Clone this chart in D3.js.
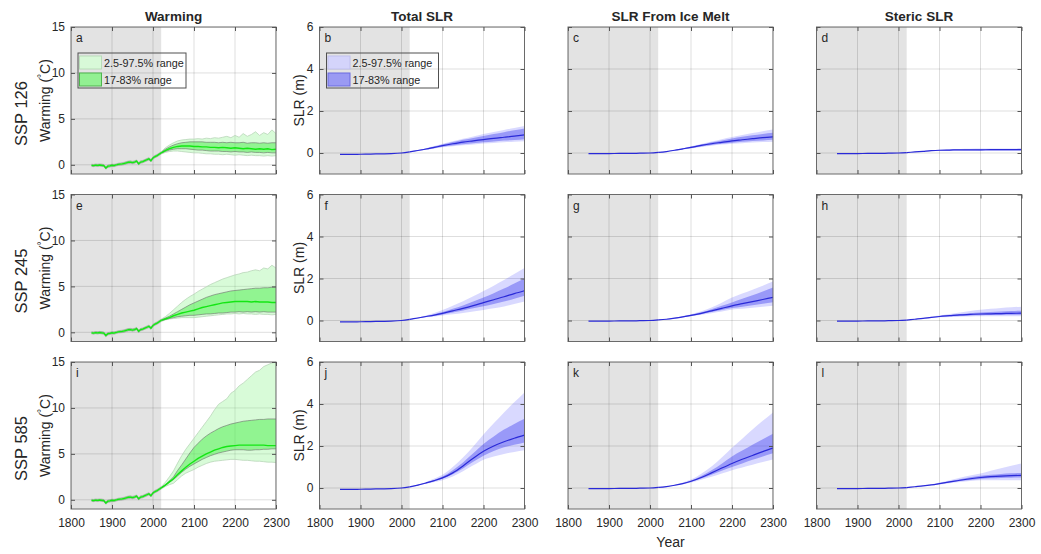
<!DOCTYPE html>
<html>
<head>
<meta charset="utf-8">
<script src="https://cdn.jsdelivr.net/npm/d3@7"></script>
<style>
  body { margin: 0; background: #fff; }
  text { font-family: "Liberation Sans", Arial, Helvetica, sans-serif; fill: #262626; }
</style>
</head>
<body>
<svg id="fig" width="1041" height="554"></svg>
<script>
// ---------------- labels ----------------
const columnTitles = ["Warming", "Total SLR", "SLR From Ice Melt", "Steric SLR"];
const scenarioLabels = ["SSP 126", "SSP 245", "SSP 585"];
const panelLetters = [["a", "b", "c", "d"], ["e", "f", "g", "h"], ["i", "j", "k", "l"]];
const legendLabels = ["2.5-97.5% range", "17-83% range"];
const xTicks = [1800, 1900, 2000, 2100, 2200, 2300];
const warmTicks = [0, 5, 10, 15];
const slrTicks = [0, 2, 4, 6];
const historicalEnd = 2020;

// ---------------- warming (°C) ----------------
const warmHistYears = [1850,1855,1860,1865,1870,1875,1880,1885,1890,1895,1900,1905,1910,1915,1920,1925,1930,1935,1940,1945,1950,1955,1960,1965,1970,1975,1980,1985,1990,1995,2000,2005,2010,2015,2020];
const warmHistMid = [-0.05,-0.08,-0.03,-0.06,-0.02,-0.05,-0.08,-0.35,-0.15,-0.12,-0.05,-0.08,-0.02,0.05,0.08,0.10,0.15,0.22,0.28,0.30,0.25,0.30,0.40,0.12,0.30,0.35,0.45,0.55,0.65,0.45,0.75,0.90,1.00,1.15,1.30];
const warmHistLo = [-0.17,-0.20,-0.15,-0.19,-0.14,-0.18,-0.20,-0.48,-0.28,-0.25,-0.17,-0.21,-0.14,-0.07,-0.05,-0.03,0.02,0.09,0.15,0.17,0.12,0.17,0.27,-0.01,0.17,0.22,0.32,0.42,0.52,0.32,0.62,0.77,0.87,1.02,1.17];
const warmHistHi = [0.07,0.04,0.09,0.07,0.10,0.08,0.04,-0.22,-0.03,0.01,0.07,0.05,0.10,0.17,0.20,0.23,0.28,0.35,0.41,0.43,0.38,0.43,0.53,0.25,0.43,0.48,0.58,0.68,0.78,0.58,0.88,1.03,1.13,1.28,1.43];

const warmProjYears = [2020,2030,2040,2050,2060,2070,2080,2090,2100,2110,2120,2130,2140,2150,2160,2170,2180,2190,2200,2210,2220,2230,2240,2250,2260,2270,2280,2290,2300];
// each: [2.5%, 17%, 50%, 83%, 97.5%]
const warm126 = [
  [1.17,1.35,1.45,1.5,1.5,1.45,1.4,1.35,1.3,1.3,1.25,1.2,1.2,1.15,1.15,1.1,1.15,1.1,1.05,1.1,1.05,1.0,1.05,1.0,1.0,0.95,1.0,0.95,1.0],
  [1.25,1.45,1.6,1.7,1.75,1.75,1.75,1.7,1.65,1.6,1.6,1.55,1.5,1.5,1.5,1.45,1.45,1.4,1.45,1.4,1.4,1.35,1.4,1.35,1.35,1.3,1.35,1.3,1.3],
  [1.3,1.55,1.75,1.9,2.0,2.05,2.05,2.05,2.0,2.0,1.95,1.95,1.9,1.9,1.85,1.9,1.85,1.8,1.85,1.8,1.75,1.8,1.75,1.7,1.75,1.7,1.75,1.65,1.7],
  [1.35,1.7,1.95,2.15,2.3,2.4,2.45,2.5,2.5,2.5,2.5,2.45,2.45,2.45,2.4,2.45,2.4,2.45,2.4,2.4,2.45,2.35,2.4,2.4,2.35,2.4,2.35,2.4,2.4],
  [1.43,1.85,2.15,2.4,2.6,2.7,2.75,2.8,2.8,2.85,2.8,2.9,2.85,2.95,2.9,3.0,3.1,2.95,3.2,3.0,3.4,3.1,3.3,3.6,3.2,3.5,3.3,3.8,3.4]
];
const warm245 = [
  [1.17,1.35,1.45,1.5,1.55,1.6,1.6,1.6,1.6,1.65,1.7,1.75,1.8,1.85,1.9,1.95,2.0,2.0,2.05,2.0,2.05,2.0,2.0,1.95,2.0,1.95,1.95,1.9,1.95],
  [1.25,1.4,1.5,1.6,1.7,1.75,1.8,1.85,1.85,1.9,1.95,2.0,2.0,2.05,2.1,2.1,2.15,2.2,2.2,2.25,2.2,2.25,2.2,2.25,2.2,2.25,2.2,2.2,2.2],
  [1.3,1.45,1.6,1.8,1.95,2.1,2.2,2.3,2.4,2.55,2.7,2.8,2.9,3.0,3.1,3.2,3.25,3.3,3.35,3.35,3.35,3.35,3.3,3.35,3.3,3.3,3.3,3.25,3.25],
  [1.35,1.55,1.75,2.0,2.25,2.5,2.75,3.0,3.2,3.4,3.6,3.8,3.95,4.1,4.2,4.3,4.4,4.5,4.55,4.6,4.65,4.7,4.75,4.8,4.8,4.85,4.85,4.9,4.9],
  [1.43,1.7,2.05,2.45,2.85,3.25,3.6,3.9,4.15,4.45,4.7,4.95,5.2,5.4,5.6,5.8,5.95,6.1,6.25,6.35,6.5,6.55,6.7,6.8,6.7,7.0,6.9,7.3,7.0]
];
const warm585 = [
  [1.17,1.45,1.65,1.8,2.2,2.6,2.9,3.1,3.3,3.55,3.75,3.95,4.1,4.2,4.25,4.3,4.35,4.4,4.4,4.35,4.3,4.3,4.25,4.2,4.2,4.15,4.1,4.1,4.05],
  [1.25,1.55,1.9,2.2,2.6,3.0,3.35,3.65,3.9,4.15,4.4,4.6,4.8,4.95,5.1,5.2,5.3,5.4,5.45,5.45,5.45,5.4,5.4,5.45,5.45,5.5,5.5,5.55,5.55],
  [1.3,1.6,1.95,2.3,2.75,3.15,3.55,3.9,4.2,4.5,4.75,5.0,5.2,5.4,5.55,5.7,5.8,5.85,5.9,5.95,5.95,5.95,5.95,5.95,5.95,5.95,5.9,5.9,5.9],
  [1.35,1.65,2.05,2.5,3.2,3.8,4.45,5.1,5.7,6.15,6.6,6.95,7.25,7.5,7.75,7.95,8.1,8.25,8.35,8.45,8.55,8.6,8.65,8.7,8.75,8.75,8.8,8.8,8.8],
  [1.43,1.9,2.5,3.15,4.0,4.8,5.5,6.1,6.7,7.3,7.9,8.5,9.1,9.8,10.4,10.7,11.0,11.6,11.9,12.4,12.7,13.1,13.5,13.9,14.1,14.5,14.7,14.9,15.0]
];

// ---------------- sea-level rise (m) ----------------
const slrHistYears = [1850,1875,1900,1925,1950,1975,2000,2020];
const slrHistTotal = [-0.07,-0.07,-0.06,-0.05,-0.04,-0.03,0.0,0.05];
const slrHistIce = [-0.03,-0.03,-0.03,-0.02,-0.02,-0.01,0.0,0.03];
const slrHistSteric = [-0.03,-0.03,-0.03,-0.02,-0.02,-0.01,0.0,0.02];

const slrProjYears = [2020,2040,2060,2080,2100,2125,2150,2175,2200,2225,2250,2275,2300];
// each: [2.5%, 17%, 50%, 83%, 97.5%]
const total126 = [
  [0.05,0.10,0.15,0.21,0.27,0.32,0.37,0.41,0.45,0.48,0.51,0.53,0.56],
  [0.05,0.11,0.17,0.23,0.30,0.36,0.42,0.47,0.51,0.55,0.59,0.62,0.66],
  [0.05,0.12,0.19,0.27,0.35,0.44,0.52,0.58,0.64,0.70,0.75,0.80,0.86],
  [0.05,0.13,0.21,0.31,0.41,0.52,0.63,0.72,0.81,0.90,0.99,1.08,1.17],
  [0.05,0.14,0.23,0.33,0.44,0.56,0.68,0.79,0.90,1.00,1.10,1.19,1.28]
];
const total245 = [
  [0.05,0.10,0.15,0.19,0.24,0.30,0.36,0.43,0.50,0.58,0.67,0.78,0.90],
  [0.05,0.11,0.17,0.23,0.29,0.38,0.48,0.58,0.68,0.79,0.90,1.04,1.18],
  [0.05,0.12,0.19,0.26,0.34,0.46,0.58,0.71,0.85,0.99,1.13,1.28,1.42],
  [0.05,0.13,0.21,0.30,0.40,0.56,0.72,0.91,1.10,1.30,1.52,1.76,2.00],
  [0.05,0.14,0.24,0.36,0.50,0.70,0.92,1.15,1.40,1.66,1.93,2.21,2.50]
];
const total585 = [
  [0.05,0.12,0.20,0.29,0.37,0.55,0.80,1.08,1.35,1.50,1.62,1.72,1.80],
  [0.05,0.13,0.22,0.32,0.44,0.65,0.93,1.25,1.54,1.76,1.94,2.06,2.17],
  [0.05,0.14,0.24,0.35,0.48,0.72,1.05,1.42,1.75,2.00,2.20,2.37,2.52],
  [0.05,0.15,0.26,0.39,0.55,0.85,1.22,1.65,2.10,2.45,2.78,3.05,3.30],
  [0.05,0.16,0.29,0.45,0.63,1.00,1.45,1.98,2.55,3.08,3.60,4.08,4.55]
];
const ice126 = [
  [0.03,0.06,0.11,0.17,0.22,0.29,0.35,0.40,0.44,0.47,0.50,0.52,0.54],
  [0.03,0.07,0.12,0.18,0.24,0.31,0.38,0.44,0.49,0.53,0.57,0.60,0.63],
  [0.03,0.07,0.13,0.20,0.27,0.36,0.44,0.51,0.58,0.63,0.68,0.73,0.77],
  [0.03,0.08,0.14,0.22,0.30,0.40,0.51,0.60,0.69,0.77,0.84,0.91,0.97],
  [0.03,0.08,0.15,0.23,0.32,0.43,0.55,0.66,0.76,0.86,0.95,1.04,1.12]
];
const ice245 = [
  [0.03,0.05,0.09,0.15,0.20,0.27,0.35,0.43,0.52,0.56,0.61,0.65,0.70],
  [0.03,0.06,0.10,0.16,0.22,0.30,0.40,0.50,0.59,0.66,0.73,0.80,0.87],
  [0.03,0.06,0.11,0.17,0.24,0.34,0.46,0.58,0.70,0.80,0.90,1.00,1.10],
  [0.03,0.07,0.12,0.19,0.27,0.39,0.54,0.70,0.86,1.03,1.20,1.38,1.57],
  [0.03,0.07,0.13,0.21,0.30,0.44,0.62,0.85,1.10,1.29,1.47,1.66,1.86]
];
const ice585 = [
  [0.03,0.06,0.11,0.18,0.26,0.39,0.53,0.69,0.85,0.98,1.11,1.24,1.36],
  [0.03,0.07,0.12,0.20,0.29,0.45,0.63,0.82,1.00,1.17,1.34,1.50,1.65],
  [0.03,0.07,0.13,0.21,0.32,0.50,0.72,0.95,1.17,1.37,1.55,1.73,1.90],
  [0.03,0.08,0.14,0.23,0.35,0.57,0.84,1.16,1.50,1.78,2.06,2.32,2.58],
  [0.03,0.08,0.15,0.26,0.40,0.68,1.02,1.45,1.92,2.35,2.78,3.20,3.60]
];
const steric126 = [
  [0.02,0.04,0.07,0.09,0.10,0.11,0.11,0.11,0.10,0.10,0.10,0.10,0.10],
  [0.02,0.05,0.07,0.10,0.12,0.12,0.13,0.13,0.13,0.13,0.13,0.13,0.13],
  [0.02,0.05,0.08,0.11,0.13,0.14,0.15,0.15,0.15,0.16,0.16,0.16,0.16],
  [0.02,0.05,0.08,0.12,0.14,0.16,0.17,0.18,0.18,0.19,0.19,0.19,0.20],
  [0.02,0.06,0.09,0.13,0.16,0.18,0.19,0.20,0.21,0.21,0.22,0.22,0.22]
];
const steric245 = [
  [0.02,0.05,0.08,0.12,0.15,0.17,0.18,0.19,0.20,0.20,0.20,0.20,0.20],
  [0.02,0.06,0.09,0.13,0.17,0.20,0.22,0.24,0.25,0.26,0.26,0.27,0.27],
  [0.02,0.06,0.10,0.15,0.19,0.23,0.27,0.29,0.31,0.32,0.33,0.34,0.35],
  [0.02,0.06,0.10,0.16,0.21,0.26,0.31,0.35,0.38,0.41,0.43,0.45,0.47],
  [0.02,0.07,0.11,0.18,0.24,0.31,0.38,0.45,0.51,0.56,0.60,0.63,0.66]
];
const steric585 = [
  [0.02,0.05,0.09,0.13,0.17,0.23,0.28,0.33,0.37,0.37,0.37,0.37,0.37],
  [0.02,0.06,0.10,0.14,0.19,0.26,0.33,0.38,0.43,0.46,0.48,0.49,0.50],
  [0.02,0.06,0.10,0.15,0.21,0.29,0.37,0.44,0.50,0.54,0.57,0.59,0.60],
  [0.02,0.06,0.11,0.16,0.23,0.32,0.42,0.51,0.58,0.63,0.67,0.70,0.72],
  [0.02,0.07,0.12,0.18,0.26,0.37,0.49,0.60,0.69,0.82,0.94,1.06,1.17]
];

// ---------------- layout & styling ----------------
const W = 205, H = 147;
const left0 = 71, colStep = 248.5, top0 = 27, rowStep = 167.5;
const FONT = '"Liberation Sans", Arial, Helvetica, sans-serif';

const green = { outer: "#7ff27f", outerOp: 0.3, inner: "#3cec3c", innerOp: 0.45,
                line: "#14e614", outerEdge: "#b9d6b9", innerEdge: "#707570",
                swatchOuter: "#d8f9d8", swatchOuterEdge: "#b9dcb9", swatchInner: "#92f092", swatchInnerEdge: "#4fb44f" };
const blue = { outer: "#4040ff", outerOp: 0.2, inner: "#3a3aee", innerOp: 0.4,
               line: "#2a2ad8",
               swatchOuter: "#d4d4fb", swatchOuterEdge: "#c0c0ee", swatchInner: "#9a9af3", swatchInnerEdge: "#6a6ae0" };

const svg = d3.select("#fig");
const x = d3.scaleLinear().domain([1800, 2300]).range([0, W]);
const yWarm = d3.scaleLinear().domain([-1, 15]).range([H, 0]);
const ySlr = d3.scaleLinear().domain([-1, 6]).range([H, 0]);

const warmSets = [warm126, warm245, warm585];
const slrSets = [
  [total126, total245, total585],
  [ice126, ice245, ice585],
  [steric126, steric245, steric585]
];
const slrHists = [slrHistTotal, slrHistIce, slrHistSteric];

function zipBand(years, lo, hi) {
  return years.map((yr, i) => ({ yr, lo: lo[i], hi: hi[i] }));
}
function zipLine(years, v) {
  return years.map((yr, i) => ({ yr, v: v[i] }));
}

for (let r = 0; r < 3; r++) {
  for (let c = 0; c < 4; c++) {
    const px = left0 + c * colStep, py = top0 + r * rowStep;
    const g = svg.append("g").attr("transform", `translate(${px},${py})`);
    const y = c === 0 ? yWarm : ySlr;
    const yTicks = c === 0 ? warmTicks : slrTicks;
    const clipId = `clip-${r}-${c}`;
    g.append("clipPath").attr("id", clipId)
      .append("rect").attr("width", W).attr("height", H);
    const plot = g.append("g").attr("clip-path", `url(#${clipId})`);

    // grid
    plot.selectAll(".gx").data(xTicks).join("line")
      .attr("x1", d => x(d)).attr("x2", d => x(d)).attr("y1", 0).attr("y2", H)
      .attr("stroke", "#000").attr("stroke-opacity", 0.13).attr("stroke-width", 1);
    plot.selectAll(".gy").data(yTicks).join("line")
      .attr("x1", 0).attr("x2", W).attr("y1", d => y(d)).attr("y2", d => y(d))
      .attr("stroke", "#000").attr("stroke-opacity", 0.13).attr("stroke-width", 1);

    // historical period shading
    plot.append("rect")
      .attr("x", x(1800)).attr("y", 0)
      .attr("width", x(historicalEnd) - x(1800)).attr("height", H)
      .attr("fill", "#000").attr("fill-opacity", 0.11);

    const area = d3.area().x(d => x(d.yr)).y0(d => y(d.lo)).y1(d => y(d.hi));
    const line = d3.line().x(d => x(d.yr)).y(d => y(d.v));

    if (c === 0) {
      const set = warmSets[r];
      // historical band and line
      plot.append("path").datum(zipBand(warmHistYears, warmHistLo, warmHistHi))
        .attr("d", area).attr("fill", green.inner).attr("fill-opacity", 0.5);
      [warmHistLo, warmHistHi].forEach(arr => {
        plot.append("path").datum(zipLine(warmHistYears, arr))
          .attr("d", line).attr("fill", "none").attr("stroke", green.innerEdge)
          .attr("stroke-width", 0.6).attr("stroke-opacity", 0.6);
      });
      // projection bands
      plot.append("path").datum(zipBand(warmProjYears, set[0], set[4]))
        .attr("d", area).attr("fill", green.outer).attr("fill-opacity", green.outerOp);
      plot.append("path").datum(zipBand(warmProjYears, set[1], set[3]))
        .attr("d", area).attr("fill", green.inner).attr("fill-opacity", green.innerOp);
      [set[0], set[4]].forEach(arr => {
        plot.append("path").datum(zipLine(warmProjYears, arr))
          .attr("d", line).attr("fill", "none").attr("stroke", green.outerEdge)
          .attr("stroke-width", 0.8);
      });
      [set[1], set[3]].forEach(arr => {
        plot.append("path").datum(zipLine(warmProjYears, arr))
          .attr("d", line).attr("fill", "none").attr("stroke", green.innerEdge)
          .attr("stroke-width", 0.8).attr("stroke-opacity", 0.8);
      });
      plot.append("path").datum(zipLine(warmHistYears, warmHistMid))
        .attr("d", line).attr("fill", "none").attr("stroke", green.line).attr("stroke-width", 1.3);
      plot.append("path").datum(zipLine(warmProjYears, set[2]))
        .attr("d", line).attr("fill", "none").attr("stroke", green.line).attr("stroke-width", 1.4);
    } else {
      const set = slrSets[c - 1][r];
      const hist = slrHists[c - 1];
      const sArea = area.curve(d3.curveMonotoneX);
      const sLine = line.curve(d3.curveMonotoneX);
      plot.append("path").datum(zipBand(slrProjYears, set[0], set[4]))
        .attr("d", sArea).attr("fill", blue.outer).attr("fill-opacity", blue.outerOp);
      plot.append("path").datum(zipBand(slrProjYears, set[1], set[3]))
        .attr("d", sArea).attr("fill", blue.inner).attr("fill-opacity", blue.innerOp);
      plot.append("path").datum(zipLine(slrHistYears, hist))
        .attr("d", sLine).attr("fill", "none").attr("stroke", blue.line).attr("stroke-width", 1.2);
      plot.append("path").datum(zipLine(slrProjYears, set[2]))
        .attr("d", sLine).attr("fill", "none").attr("stroke", blue.line).attr("stroke-width", 1.2);
    }

    // frame
    g.append("rect").attr("width", W).attr("height", H)
      .attr("fill", "none").attr("stroke", "#6a6a6a").attr("stroke-width", 1);

    // axes with inward ticks on all sides
    const styleAxis = sel => {
      sel.select(".domain").remove();
      sel.selectAll(".tick line").attr("stroke", "#555");
      sel.selectAll(".tick text").attr("fill", "#262626")
        .style("font-family", FONT).style("font-size", "12px");
    };
    g.append("g").attr("transform", `translate(0,${H})`)
      .call(d3.axisBottom(x).tickValues(xTicks).tickSizeInner(-4).tickSizeOuter(0).tickPadding(9)
        .tickFormat(r === 2 ? d3.format("d") : () => ""))
      .call(styleAxis);
    g.append("g")
      .call(d3.axisTop(x).tickValues(xTicks).tickSizeInner(-4).tickSizeOuter(0).tickFormat(() => ""))
      .call(styleAxis);
    g.append("g")
      .call(d3.axisLeft(y).tickValues(yTicks).tickSizeInner(-4).tickSizeOuter(0).tickPadding(6)
        .tickFormat(c < 2 ? d3.format("d") : () => ""))
      .call(styleAxis);
    g.append("g").attr("transform", `translate(${W},0)`)
      .call(d3.axisRight(y).tickValues(yTicks).tickSizeInner(-4).tickSizeOuter(0).tickFormat(() => ""))
      .call(styleAxis);

    // panel letter
    g.append("text").attr("x", 5).attr("y", 15)
      .style("font-size", "12px").text(panelLetters[r][c]);

    // column titles
    if (r === 0) {
      g.append("text").attr("x", W / 2).attr("y", -6)
        .attr("text-anchor", "middle").style("font-size", "13.5px").style("font-weight", "bold")
        .text(columnTitles[c]);
    }

    // y-axis labels
    if (c === 0) {
      const t = g.append("text")
        .attr("transform", `translate(-21,${H / 2}) rotate(-90)`)
        .attr("text-anchor", "middle").style("font-size", "14px");
      t.append("tspan").text("Warming (");
      t.append("tspan").attr("dy", -5).style("font-size", "10px").text("\u00B0");
      t.append("tspan").attr("dy", 5).text("C)");
      svg.append("text")
        .attr("transform", `translate(27,${py + H / 2 + 13}) rotate(-90)`)
        .attr("text-anchor", "middle").style("font-size", "16.5px")
        .text(scenarioLabels[r]);
    }
    if (c === 1) {
      g.append("text")
        .attr("transform", `translate(-16,${H / 2}) rotate(-90)`)
        .attr("text-anchor", "middle").style("font-size", "14px")
        .text("SLR (m)");
    }

    // legends in the top row
    if (r === 0 && c < 2) {
      const pal = c === 0 ? green : blue;
      const lw = c === 0 ? 108 : 112;
      const lg = g.append("g").attr("transform", "translate(7,26)");
      lg.append("rect").attr("width", lw).attr("height", 35)
        .attr("fill", "none").attr("stroke", "#505050").attr("stroke-width", 1);
      const sw = [[pal.swatchOuter, pal.swatchOuterEdge], [pal.swatchInner, pal.swatchInnerEdge]];
      legendLabels.forEach((lab, i) => {
        lg.append("rect").attr("x", 1.5).attr("y", 3 + i * 17).attr("width", 22).attr("height", 13)
          .attr("fill", sw[i][0]).attr("stroke", sw[i][1]).attr("stroke-width", 1);
        lg.append("text").attr("x", 26).attr("y", 13.5 + i * 17)
          .style("font-size", "10.8px").text(lab);
      });
    }
  }
}

// shared x-axis label
svg.append("text")
  .attr("x", left0 + 2 * colStep + W / 2).attr("y", 547)
  .attr("text-anchor", "middle").style("font-size", "14px").text("Year");
</script>
</body>
</html>
